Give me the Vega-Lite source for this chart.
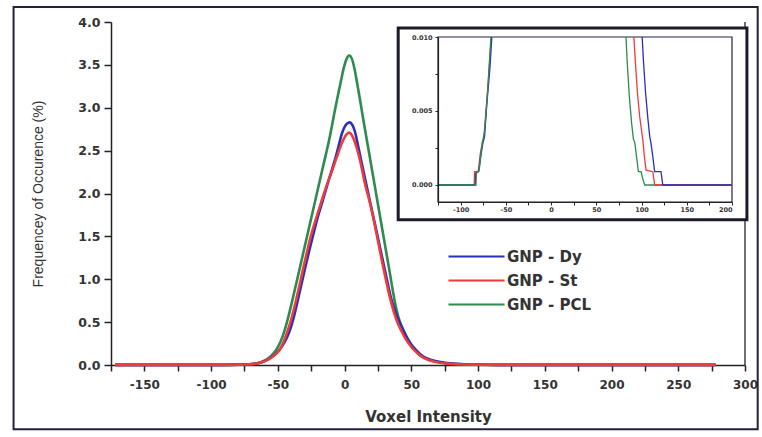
{
  "$schema": "https://vega.github.io/schema/vega-lite/v6.json",
  "autosize": "none",
  "width": 634,
  "height": 343,
  "padding": {"left": 111, "top": 22, "right": 17, "bottom": 72},
  "background": "white",
  "config": {
    "view": {"stroke": null},
    "axis": {"grid": false, "domainColor": "#222", "tickColor": "#222", "labelColor": "#333", "titleColor": "#333", "labelOverlap": false},
    "legend": {"labelFont": "DejaVu Sans", "labelFontWeight": "bold"}
  },
  "datasets": {
    "main": [
      {"s":"GNP - PCL","x":-172,"y":0.001},{"s":"GNP - PCL","x":-150,"y":0.001},{"s":"GNP - PCL","x":-125,"y":0.001},{"s":"GNP - PCL","x":-110,"y":0.001},{"s":"GNP - PCL","x":-90,"y":0.002},{"s":"GNP - PCL","x":-80,"y":0.004},{"s":"GNP - PCL","x":-71.5,"y":0.008},{"s":"GNP - PCL","x":-66.5,"y":0.016},{"s":"GNP - PCL","x":-62.5,"y":0.033},{"s":"GNP - PCL","x":-58.8,"y":0.06},{"s":"GNP - PCL","x":-55,"y":0.105},{"s":"GNP - PCL","x":-51.3,"y":0.175},{"s":"GNP - PCL","x":-48,"y":0.27},{"s":"GNP - PCL","x":-45,"y":0.4},{"s":"GNP - PCL","x":-42,"y":0.57},{"s":"GNP - PCL","x":-39.5,"y":0.73},{"s":"GNP - PCL","x":-36.5,"y":0.93},{"s":"GNP - PCL","x":-31.5,"y":1.27},{"s":"GNP - PCL","x":-26.5,"y":1.61},{"s":"GNP - PCL","x":-21.5,"y":1.95},{"s":"GNP - PCL","x":-16.5,"y":2.29},{"s":"GNP - PCL","x":-11.5,"y":2.63},{"s":"GNP - PCL","x":-6.5,"y":3.03},{"s":"GNP - PCL","x":-4.5,"y":3.18},{"s":"GNP - PCL","x":-2.5,"y":3.33},{"s":"GNP - PCL","x":-0.5,"y":3.47},{"s":"GNP - PCL","x":1.5,"y":3.57},{"s":"GNP - PCL","x":3.5,"y":3.61},{"s":"GNP - PCL","x":5.5,"y":3.57},{"s":"GNP - PCL","x":7.5,"y":3.45},{"s":"GNP - PCL","x":9.5,"y":3.28},{"s":"GNP - PCL","x":11.5,"y":3.1},{"s":"GNP - PCL","x":13.5,"y":2.91},{"s":"GNP - PCL","x":18.5,"y":2.46},{"s":"GNP - PCL","x":23.5,"y":2.01},{"s":"GNP - PCL","x":28.5,"y":1.56},{"s":"GNP - PCL","x":33.5,"y":1.11},{"s":"GNP - PCL","x":37.5,"y":0.75},{"s":"GNP - PCL","x":40.5,"y":0.55},{"s":"GNP - PCL","x":44.5,"y":0.39},{"s":"GNP - PCL","x":47.5,"y":0.29},{"s":"GNP - PCL","x":50.5,"y":0.21},{"s":"GNP - PCL","x":54.5,"y":0.14},{"s":"GNP - PCL","x":58.5,"y":0.095},{"s":"GNP - PCL","x":63.5,"y":0.06},{"s":"GNP - PCL","x":69.5,"y":0.035},{"s":"GNP - PCL","x":76.5,"y":0.02},{"s":"GNP - PCL","x":85.5,"y":0.01},{"s":"GNP - PCL","x":98,"y":0.005},{"s":"GNP - PCL","x":113,"y":0.002},{"s":"GNP - PCL","x":150,"y":0.001},{"s":"GNP - PCL","x":200,"y":0.001},{"s":"GNP - PCL","x":278,"y":0.001},
      {"s":"GNP - Dy","x":-172,"y":0.001},{"s":"GNP - Dy","x":-150,"y":0.001},{"s":"GNP - Dy","x":-125,"y":0.001},{"s":"GNP - Dy","x":-110,"y":0.001},{"s":"GNP - Dy","x":-90,"y":0.002},{"s":"GNP - Dy","x":-80,"y":0.004},{"s":"GNP - Dy","x":-71.2,"y":0.009},{"s":"GNP - Dy","x":-66.2,"y":0.018},{"s":"GNP - Dy","x":-62.2,"y":0.033},{"s":"GNP - Dy","x":-58.8,"y":0.055},{"s":"GNP - Dy","x":-55.2,"y":0.085},{"s":"GNP - Dy","x":-52.2,"y":0.12},{"s":"GNP - Dy","x":-48.8,"y":0.175},{"s":"GNP - Dy","x":-45.2,"y":0.26},{"s":"GNP - Dy","x":-41.8,"y":0.37},{"s":"GNP - Dy","x":-38.2,"y":0.55},{"s":"GNP - Dy","x":-35,"y":0.76},{"s":"GNP - Dy","x":-32.2,"y":0.95},{"s":"GNP - Dy","x":-29.3,"y":1.15},{"s":"GNP - Dy","x":-26.2,"y":1.35},{"s":"GNP - Dy","x":-23.3,"y":1.53},{"s":"GNP - Dy","x":-20,"y":1.73},{"s":"GNP - Dy","x":-16.5,"y":1.91},{"s":"GNP - Dy","x":-12,"y":2.15},{"s":"GNP - Dy","x":-6.2,"y":2.45},{"s":"GNP - Dy","x":-4.2,"y":2.57},{"s":"GNP - Dy","x":-2.2,"y":2.69},{"s":"GNP - Dy","x":-0.2,"y":2.77},{"s":"GNP - Dy","x":1.8,"y":2.815},{"s":"GNP - Dy","x":3.8,"y":2.83},{"s":"GNP - Dy","x":5.8,"y":2.8},{"s":"GNP - Dy","x":7.8,"y":2.72},{"s":"GNP - Dy","x":9.8,"y":2.58},{"s":"GNP - Dy","x":11.8,"y":2.43},{"s":"GNP - Dy","x":15.8,"y":2.14},{"s":"GNP - Dy","x":19.8,"y":1.85},{"s":"GNP - Dy","x":23.8,"y":1.57},{"s":"GNP - Dy","x":27.8,"y":1.28},{"s":"GNP - Dy","x":31.8,"y":0.99},{"s":"GNP - Dy","x":34.8,"y":0.78},{"s":"GNP - Dy","x":37.8,"y":0.63},{"s":"GNP - Dy","x":40.8,"y":0.51},{"s":"GNP - Dy","x":43.8,"y":0.41},{"s":"GNP - Dy","x":46.8,"y":0.32},{"s":"GNP - Dy","x":50,"y":0.24},{"s":"GNP - Dy","x":53.8,"y":0.17},{"s":"GNP - Dy","x":58.7,"y":0.1},{"s":"GNP - Dy","x":63.8,"y":0.065},{"s":"GNP - Dy","x":69.8,"y":0.04},{"s":"GNP - Dy","x":76.8,"y":0.022},{"s":"GNP - Dy","x":85.8,"y":0.01},{"s":"GNP - Dy","x":98,"y":0.005},{"s":"GNP - Dy","x":113,"y":0.002},{"s":"GNP - Dy","x":150,"y":0.001},{"s":"GNP - Dy","x":200,"y":0.001},{"s":"GNP - Dy","x":278,"y":0.001},
      {"s":"GNP - St","x":-172,"y":0.001},{"s":"GNP - St","x":-150,"y":0.001},{"s":"GNP - St","x":-125,"y":0.001},{"s":"GNP - St","x":-110,"y":0.001},{"s":"GNP - St","x":-90,"y":0.002},{"s":"GNP - St","x":-80,"y":0.004},{"s":"GNP - St","x":-71.5,"y":0.008},{"s":"GNP - St","x":-66.5,"y":0.017},{"s":"GNP - St","x":-62.5,"y":0.031},{"s":"GNP - St","x":-58.8,"y":0.052},{"s":"GNP - St","x":-55.5,"y":0.08},{"s":"GNP - St","x":-52.5,"y":0.115},{"s":"GNP - St","x":-48.8,"y":0.175},{"s":"GNP - St","x":-46,"y":0.26},{"s":"GNP - St","x":-43.3,"y":0.37},{"s":"GNP - St","x":-39.5,"y":0.56},{"s":"GNP - St","x":-36.3,"y":0.76},{"s":"GNP - St","x":-33.5,"y":0.95},{"s":"GNP - St","x":-30.8,"y":1.14},{"s":"GNP - St","x":-28,"y":1.33},{"s":"GNP - St","x":-25,"y":1.52},{"s":"GNP - St","x":-21.5,"y":1.7},{"s":"GNP - St","x":-17.5,"y":1.9},{"s":"GNP - St","x":-13.5,"y":2.09},{"s":"GNP - St","x":-9.5,"y":2.26},{"s":"GNP - St","x":-5.5,"y":2.44},{"s":"GNP - St","x":-2.5,"y":2.57},{"s":"GNP - St","x":-0.5,"y":2.64},{"s":"GNP - St","x":1.5,"y":2.69},{"s":"GNP - St","x":3.5,"y":2.71},{"s":"GNP - St","x":5.5,"y":2.68},{"s":"GNP - St","x":7.5,"y":2.61},{"s":"GNP - St","x":9.5,"y":2.51},{"s":"GNP - St","x":11.5,"y":2.39},{"s":"GNP - St","x":15.5,"y":2.1},{"s":"GNP - St","x":19.5,"y":1.86},{"s":"GNP - St","x":23.3,"y":1.58},{"s":"GNP - St","x":28.3,"y":1.19},{"s":"GNP - St","x":33.75,"y":0.8},{"s":"GNP - St","x":36.5,"y":0.64},{"s":"GNP - St","x":39.5,"y":0.5},{"s":"GNP - St","x":42.5,"y":0.4},{"s":"GNP - St","x":45.5,"y":0.31},{"s":"GNP - St","x":50,"y":0.21},{"s":"GNP - St","x":54.5,"y":0.14},{"s":"GNP - St","x":58.5,"y":0.09},{"s":"GNP - St","x":63.5,"y":0.055},{"s":"GNP - St","x":69.5,"y":0.032},{"s":"GNP - St","x":76.5,"y":0.017},{"s":"GNP - St","x":85.5,"y":0.008},{"s":"GNP - St","x":98,"y":0.004},{"s":"GNP - St","x":113,"y":0.002},{"s":"GNP - St","x":150,"y":0.001},{"s":"GNP - St","x":200,"y":0.001},{"s":"GNP - St","x":278,"y":0.001}
    ],
    "inset": [
      {"s":"GNP - St","p":"L","ix":-125,"iy":0},{"s":"GNP - St","p":"L","ix":-85,"iy":0},{"s":"GNP - St","p":"L","ix":-84.6,"iy":0.0009},{"s":"GNP - St","p":"L","ix":-80.5,"iy":0.0009},{"s":"GNP - St","p":"L","ix":-78.5,"iy":0.002},{"s":"GNP - St","p":"L","ix":-76,"iy":0.0029},{"s":"GNP - St","p":"L","ix":-74.5,"iy":0.0031},{"s":"GNP - St","p":"L","ix":-73,"iy":0.0042},{"s":"GNP - St","p":"L","ix":-70,"iy":0.0065},{"s":"GNP - St","p":"L","ix":-66,"iy":0.01},
      {"s":"GNP - Dy","p":"L","ix":-125,"iy":0},{"s":"GNP - Dy","p":"L","ix":-83.8,"iy":0},{"s":"GNP - Dy","p":"L","ix":-83.4,"iy":0.0008},{"s":"GNP - Dy","p":"L","ix":-80,"iy":0.0009},{"s":"GNP - Dy","p":"L","ix":-77.5,"iy":0.002},{"s":"GNP - Dy","p":"L","ix":-75.5,"iy":0.0028},{"s":"GNP - Dy","p":"L","ix":-73.5,"iy":0.0033},{"s":"GNP - Dy","p":"L","ix":-71,"iy":0.0055},{"s":"GNP - Dy","p":"L","ix":-67.5,"iy":0.008},{"s":"GNP - Dy","p":"L","ix":-65.5,"iy":0.01},
      {"s":"GNP - PCL","p":"L","ix":-125,"iy":0},{"s":"GNP - PCL","p":"L","ix":-83,"iy":0},{"s":"GNP - PCL","p":"L","ix":-82.6,"iy":0.0008},{"s":"GNP - PCL","p":"L","ix":-79.5,"iy":0.001},{"s":"GNP - PCL","p":"L","ix":-77.5,"iy":0.0022},{"s":"GNP - PCL","p":"L","ix":-75.5,"iy":0.003},{"s":"GNP - PCL","p":"L","ix":-73.5,"iy":0.0036},{"s":"GNP - PCL","p":"L","ix":-70.5,"iy":0.006},{"s":"GNP - PCL","p":"L","ix":-66.5,"iy":0.01},
      {"s":"GNP - PCL","p":"R","ix":82.8,"iy":0.01},{"s":"GNP - PCL","p":"R","ix":84,"iy":0.0085},{"s":"GNP - PCL","p":"R","ix":86.5,"iy":0.006},{"s":"GNP - PCL","p":"R","ix":89,"iy":0.0042},{"s":"GNP - PCL","p":"R","ix":91,"iy":0.0031},{"s":"GNP - PCL","p":"R","ix":92.5,"iy":0.0029},{"s":"GNP - PCL","p":"R","ix":94.5,"iy":0.0019},{"s":"GNP - PCL","p":"R","ix":96.5,"iy":0.0009},{"s":"GNP - PCL","p":"R","ix":99.5,"iy":0.0009},{"s":"GNP - PCL","p":"R","ix":101,"iy":0.0005},{"s":"GNP - PCL","p":"R","ix":103.5,"iy":0},{"s":"GNP - PCL","p":"R","ix":200,"iy":0},
      {"s":"GNP - St","p":"R","ix":91.5,"iy":0.01},{"s":"GNP - St","p":"R","ix":93,"iy":0.0085},{"s":"GNP - St","p":"R","ix":95.5,"iy":0.0062},{"s":"GNP - St","p":"R","ix":98,"iy":0.0046},{"s":"GNP - St","p":"R","ix":100,"iy":0.0037},{"s":"GNP - St","p":"R","ix":101.5,"iy":0.003},{"s":"GNP - St","p":"R","ix":103,"iy":0.002},{"s":"GNP - St","p":"R","ix":105,"iy":0.001},{"s":"GNP - St","p":"R","ix":112.5,"iy":0.0009},{"s":"GNP - St","p":"R","ix":114.5,"iy":0},{"s":"GNP - St","p":"R","ix":200,"iy":0},
      {"s":"GNP - Dy","p":"R","ix":100.7,"iy":0.01},{"s":"GNP - Dy","p":"R","ix":102,"iy":0.0085},{"s":"GNP - Dy","p":"R","ix":104.5,"iy":0.0062},{"s":"GNP - Dy","p":"R","ix":107,"iy":0.0045},{"s":"GNP - Dy","p":"R","ix":109,"iy":0.0033},{"s":"GNP - Dy","p":"R","ix":110.5,"iy":0.0028},{"s":"GNP - Dy","p":"R","ix":112.5,"iy":0.0019},{"s":"GNP - Dy","p":"R","ix":114.5,"iy":0.0009},{"s":"GNP - Dy","p":"R","ix":121.5,"iy":0.0009},{"s":"GNP - Dy","p":"R","ix":123.5,"iy":0},{"s":"GNP - Dy","p":"R","ix":200,"iy":0}
    ]
  },
  "layer": [
    {
      "layer": [
        {
          "data": {"name": "main"},
          "mark": {"type": "line", "strokeWidth": 2.6, "interpolate": "monotone"},
          "encoding": {
            "x": {"field": "x", "type": "quantitative",
                  "scale": {"domain": [-175, 300], "nice": false, "zero": false},
                  "axis": {"orient": "bottom", "title": "Voxel Intensity", "values": [-175,-150,-125,-100,-75,-50,-25,0,25,50,75,100,125,150,175,200,225,250,275,300],
                           "labelExpr": "datum.value % 50 === 0 ? '' + datum.value : ''",
                           "labelOverlap": false, "labelFlush": false, "labelBound": false, "tickCount": 20,
                           "labelFont": "DejaVu Sans", "labelFontWeight": "bold", "labelFontSize": 12, "labelPadding": 8,
                           "tickSize": 6, "tickWidth": 1.5, "domainWidth": 1.5,
                           "titleFont": "DejaVu Sans", "titleFontWeight": "bold", "titleFontSize": 15, "titlePadding": 19}},
            "y": {"field": "y", "type": "quantitative",
                  "scale": {"domain": [0, 4], "nice": false, "zero": false},
                  "axis": {"title": "Frequencey of Occurence (%)", "values": [0,0.25,0.5,0.75,1,1.25,1.5,1.75,2,2.25,2.5,2.75,3,3.25,3.5,3.75,4],
                           "labelExpr": "datum.value % 0.5 === 0 ? format(datum.value, '.1f') : ''",
                           "labelFont": "DejaVu Sans", "labelFontWeight": "bold", "labelFontSize": 12.5, "labelPadding": 4,
                           "tickSize": 7, "tickWidth": 1.5, "domainWidth": 1.5,
                           "titleFont": "Liberation Sans", "titleFontWeight": "normal", "titleFontSize": 14, "titlePadding": 32}},
            "color": {"field": "s", "type": "nominal",
                      "scale": {"domain": ["GNP - Dy", "GNP - St", "GNP - PCL"], "range": ["#2b2fb8", "#ee3b3b", "#2e8a4e"]},
                      "legend": {"title": null, "orient": "none", "legendX": 357, "legendY": 226, "symbolType": "M-4,0H4",
                                 "symbolSize": 196, "symbolStrokeWidth": 2.2, "symbolFillColor": "transparent", "labelFontSize": 15, "labelColor": "#333",
                                 "labelOffset": 22, "rowPadding": 7, "padding": 0}}
          }
        },
        {
          "data": {"values": [{}]},
          "mark": {"type": "rule", "color": "#222", "strokeWidth": 1.3},
          "encoding": {"x": {"datum": 300, "type": "quantitative"}, "y": {"datum": 0, "type": "quantitative"}, "y2": {"datum": 4}}
        },
        {
          "data": {"values": [{}]},
          "mark": {"type": "rect", "fill": null, "stroke": "#22223a", "strokeWidth": 2},
          "encoding": {"x": {"datum": -248, "type": "quantitative"}, "x2": {"datum": 309.5}, "y": {"datum": 4.175, "type": "quantitative"}, "y2": {"datum": -0.75}}
        }
      ]
    },
    {
      "layer": [
        {
          "data": {"values": [{}]},
          "mark": {"type": "rect", "fill": "white", "stroke": "#1a1a2a", "strokeWidth": 3},
          "encoding": {
            "x": {"datum": -169, "type": "quantitative"},
            "x2": {"datum": 216.5},
            "y": {"datum": 0.0106, "type": "quantitative"},
            "y2": {"datum": -0.00235}
          }
        },
        {
          "data": {"values": [{}]},
          "mark": {"type": "rect", "fill": null, "stroke": "#222244", "strokeWidth": 1.2},
          "encoding": {"x": {"datum": -125, "type": "quantitative"}, "x2": {"datum": 200}, "y": {"datum": -0.00115, "type": "quantitative"}, "y2": {"datum": 0.01}}
        },
        {
          "data": {"name": "inset"},
          "mark": {"type": "line", "strokeWidth": 1.3},
          "encoding": {
            "x": {"field": "ix", "type": "quantitative",
                  "scale": {"domain": [-125, 200], "range": [327, 621], "nice": false, "zero": false},
                  "axis": {"orient": "bottom", "offset": -163, "title": null, "zindex": 2,
                           "values": [-125,-100,-75,-50,-25,0,25,50,75,100,125,150,175,200],
                           "labelExpr": "datum.value % 50 === 0 ? '' + datum.value : ''",
                           "labelFont": "DejaVu Sans", "labelFontWeight": "bold", "labelFontSize": 6.5, "labelPadding": 1,
                           "tickSize": 3, "domainWidth": 1.2}},
            "y": {"field": "iy", "type": "quantitative",
                  "scale": {"domain": [-0.00115, 0.01], "range": [180, 15], "nice": false, "zero": false},
                  "axis": {"orient": "left", "offset": -327, "title": null, "zindex": 2,
                           "values": [0, 0.0025, 0.005, 0.0075, 0.01],
                           "labelExpr": "abs(datum.value) < 1e-9 || abs(datum.value - 0.005) < 1e-9 || abs(datum.value - 0.01) < 1e-9 ? format(datum.value, '.3f') : ''",
                           "labelFont": "DejaVu Sans", "labelFontWeight": "bold", "labelFontSize": 6.5, "labelPadding": 3,
                           "tickSize": 3, "domainWidth": 1.2}},
            "detail": {"field": "p"},
            "color": {"field": "s", "type": "nominal"}
          }
        }
      ]
    }
  ],
  "resolve": {"scale": {"x": "independent", "y": "independent"}, "axis": {"x": "independent", "y": "independent"}}
}
